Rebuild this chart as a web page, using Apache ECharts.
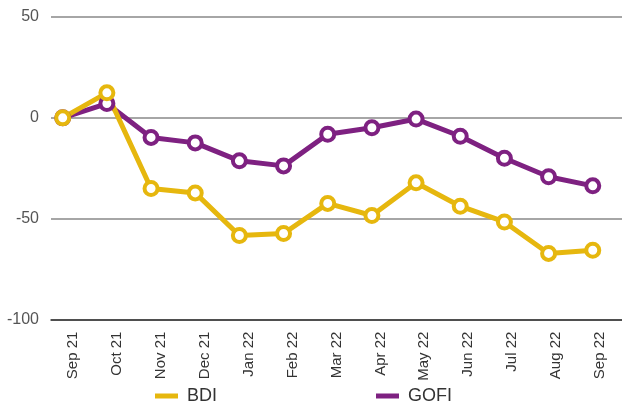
<!DOCTYPE html>
<html>
<head>
<meta charset="utf-8">
<script src="https://cdn.jsdelivr.net/npm/echarts@6/dist/echarts.min.js"></script>
<style>
  html, body { margin: 0; padding: 0; background: #fff; }
  #chart { width: 622px; height: 414px; }
</style>
</head>
<body>
<div id="chart"></div>
<script>
// 月份
var months = ["Sep 21", "Oct 21", "Nov 21", "Dec 21", "Jan 22", "Feb 22", "Mar 22",
  "Apr 22", "May 22", "Jun 22", "Jul 22", "Aug 22", "Sep 22"];
// 数据（%）
var bdi = [0, 12.4, -35, -37.2, -58.3, -57.3, -42.4, -48.4, -32.2, -43.8, -51.6, -67.2, -65.6];
var gofi = [0, 7.1, -9.7, -12.4, -21.3, -23.8, -8.1, -4.9, -0.6, -9.1, -20, -29.2, -33.7];

var font = "Liberation Sans, Arial, sans-serif";

function toPoints(arr) {
  return arr.map(function (v, i) { return [i, v]; });
}

function lineSeries(name, color, values) {
  return {
    name: name,
    type: "line",
    xAxisIndex: 1,
    data: toPoints(values),
    symbol: "circle",
    symbolSize: 13,
    showAllSymbol: true,
    lineStyle: { color: color, width: 5 },
    itemStyle: { color: "#fff", borderColor: color, borderWidth: 4 },
    emphasis: { disabled: true },
  };
}

var myChart = echarts.init(document.getElementById("chart"));
myChart.setOption({
  animation: false,
  textStyle: { fontFamily: font },
  grid: { left: 51, top: 17, right: 0, height: 302.6, containLabel: false },
  legend: {
    bottom: 4,
    left: 150,
    itemWidth: 23,
    itemHeight: 5,
    itemGap: 159,
    icon: "rect",
    textStyle: { fontSize: 18, color: "#333", fontFamily: font, padding: [0, 0, 0, 4] },
    data: [
      { name: "BDI", itemStyle: { color: "#E6B70E", borderWidth: 0 } },
      { name: "GOFI", itemStyle: { color: "#7E2181", borderWidth: 0 } },
    ],
  },
  xAxis: [
    {
      type: "category",
      data: months,
      boundaryGap: true,
      axisLine: { onZero: false, lineStyle: { color: "#333", width: 1.5 } },
      axisTick: { alignWithLabel: true, length: 6, lineStyle: { color: "#333" } },
      axisLabel: { rotate: 90, fontSize: 15, color: "#333", margin: 12, interval: 0 },
      splitLine: { show: false },
    },
    {
      // 数据点相对标签左移
      type: "value",
      min: -0.265,
      max: 12.662,
      show: false,
      axisLine: { onZero: false },
    },
  ],
  yAxis: {
    type: "value",
    min: -100,
    max: 50,
    interval: 50,
    axisLine: { show: false },
    axisTick: { show: false },
    axisLabel: { fontSize: 16, color: "#555", margin: 12 },
    splitLine: { lineStyle: { color: "#888", width: 1.5 } },
  },
  series: [
    lineSeries("GOFI", "#7E2181", gofi),
    lineSeries("BDI", "#E6B70E", bdi),
  ],
});
</script>
</body>
</html>
